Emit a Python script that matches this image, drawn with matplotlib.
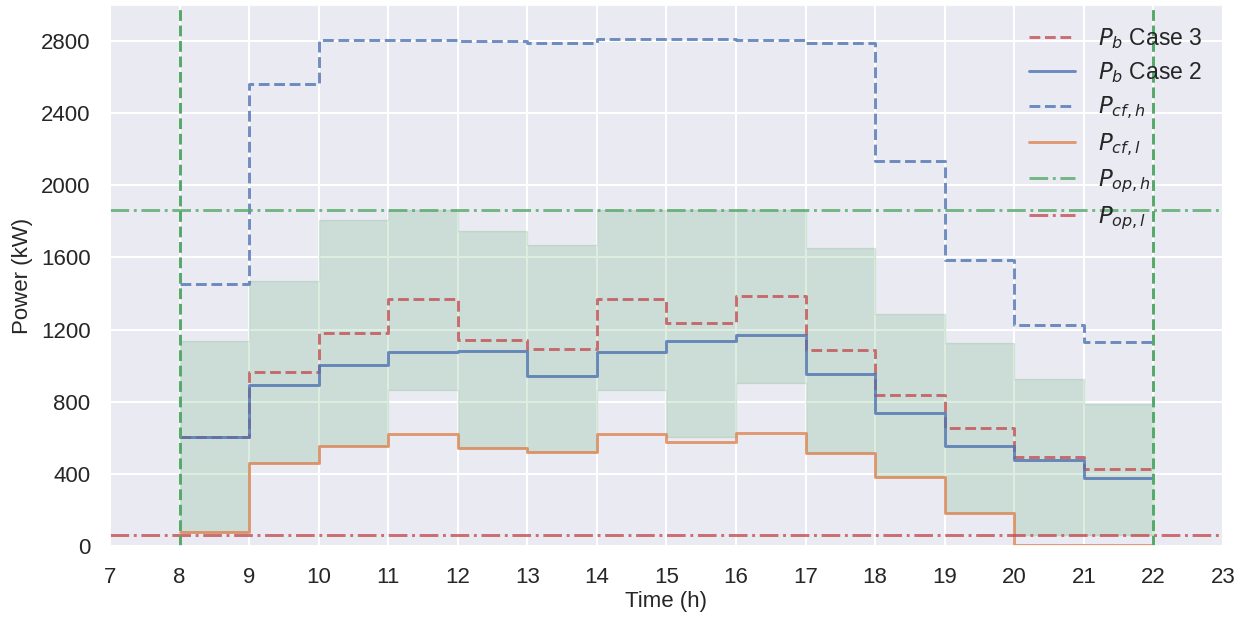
import matplotlib

matplotlib.use("Agg")

import matplotlib.pyplot as plt
import numpy as np
import seaborn as sns

# hourly values, each holds from hour h to h+1
hours = np.arange(8, 22)
pb_case3 = [605, 965, 1181, 1367, 1144, 1094, 1367, 1236, 1385, 1085, 837, 656, 494, 426]
pb_case2 = [605, 891, 1002, 1075, 1079, 943, 1075, 1136, 1168, 956, 740, 557, 476, 375]
p_cf_h = [1455, 2564, 2808, 2808, 2800, 2791, 2810, 2812, 2808, 2790, 2136, 1587, 1224, 1129]
p_cf_l = [75, 461, 555, 620, 544, 522, 620, 574, 627, 513, 385, 183, 5, 5]
band_hi = [1136, 1472, 1808, 1863, 1745, 1670, 1863, 1863, 1863, 1651, 1288, 1127, 924, 786]
band_lo = [75, 461, 555, 867, 544, 522, 867, 605, 906, 513, 385, 183, 61, 61]
p_op_h = 1863
p_op_l = 61
t_start, t_end = 8, 22


def stepped(values):
    x = np.append(hours, hours[-1] + 1)
    y = np.append(values, values[-1])
    return x, y


sns.set_theme(style="darkgrid")
plt.rcParams["font.family"] = ["Liberation Sans", "DejaVu Sans"]
pal = sns.color_palette("deep")
blue, orange, green, red = pal[0], pal[1], pal[2], pal[3]

fig = plt.figure(figsize=(12.47, 6.17), dpi=100)
ax = fig.add_axes([0.0882, 0.1151, 0.8925, 0.8768])

x, lo = stepped(band_lo)
_, hi = stepped(band_hi)
ax.fill_between(x, lo, hi, step="post", color=green, alpha=0.2)

lw = 2.1
ax.plot(*stepped(pb_case3), drawstyle="steps-post", ls="--", color=red, lw=lw, alpha=0.8,
        label="$P_b$ Case 3")
ax.plot(*stepped(pb_case2), drawstyle="steps-post", ls="-", color=blue, lw=lw, alpha=0.8,
        label="$P_b$ Case 2")
ax.plot(*stepped(p_cf_h), drawstyle="steps-post", ls="--", color=blue, lw=lw, alpha=0.8,
        label="$P_{cf,h}$")
ax.plot(*stepped(p_cf_l), drawstyle="steps-post", ls="-", color=orange, lw=lw, alpha=0.8,
        label="$P_{cf,l}$")
ax.axhline(p_op_h, ls="-.", color=green, lw=lw, alpha=0.8, label="$P_{op,h}$")
ax.axhline(p_op_l, ls="-.", color=red, lw=lw, alpha=0.8, label="$P_{op,l}$")
ax.axvline(t_start, ls="--", color=green, lw=lw)
ax.axvline(t_end, ls="--", color=green, lw=lw)

ax.set_xlim(7, 23)
ax.set_ylim(0, 3000)
ax.set_xticks(np.arange(7, 24))
ax.set_yticks(np.arange(0, 3000, 400))
ax.tick_params(axis="both", labelsize=16, colors="#262626")
ax.tick_params(axis="y", pad=8)
ax.tick_params(axis="x", pad=9)
ax.set_xlabel("Time (h)", fontsize=16, labelpad=2)
ax.set_ylabel("Power (kW)", fontsize=16, labelpad=6)
ax.grid(color="white", lw=1.5)

ax.legend(loc="upper right", fontsize=16.5, frameon=False, handlelength=2.0,
          handletextpad=1.0, labelspacing=0.42, bbox_to_anchor=(1.0, 1.0))

fig.savefig("out.png", dpi=100)
